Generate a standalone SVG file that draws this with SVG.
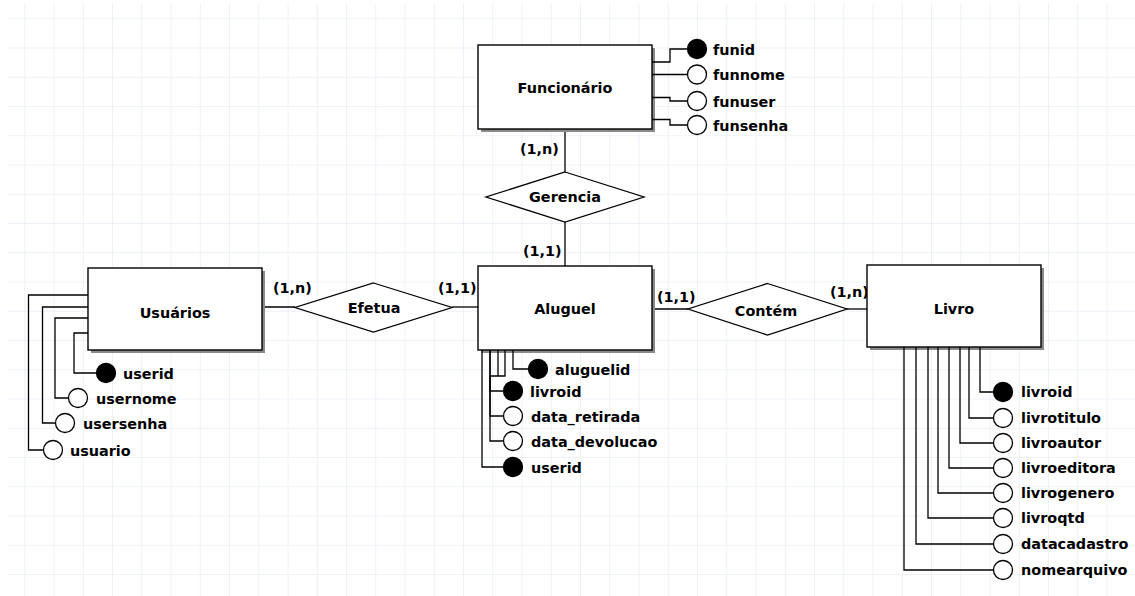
<svg xmlns="http://www.w3.org/2000/svg" width="1135" height="596" viewBox="0 0 1135 596">
<defs>
<pattern id="grid" x="24.3" y="18.3" width="29.25" height="29.25" patternUnits="userSpaceOnUse">
<path d="M0,0 V29.25 M0,0 H29.25" fill="none" stroke="#e8eef6" stroke-width="1.5"/>
</pattern>
<style>
.t{font-family:"DejaVu Sans","Liberation Sans",sans-serif;font-weight:bold;font-size:14.4px;fill:#000}
.c{text-anchor:middle}
.ent{fill:#fff;stroke:#000;stroke-width:1.4}
.sh{fill:#8a8a8a}
.rel{fill:#fff;stroke:#000;stroke-width:1.3}
.ln{fill:none;stroke:#000;stroke-width:1.3}
.pk{fill:#000;stroke:#000;stroke-width:1.3}
.at{fill:#fff;stroke:#000;stroke-width:1.3}
</style>
</defs>
<rect width="1135" height="596" fill="#fff"/>
<rect x="8" y="3" width="1127" height="593" fill="url(#grid)"/>

<g id="connectors">
<path class="ln" d="M565,129 V172"/>
<path class="ln" d="M565,222 V266"/>
<path class="ln" d="M262,307 H295"/>
<path class="ln" d="M452,307 H478"/>
<path class="ln" d="M652,309 H688"/>
<path class="ln" d="M847,309 H867"/>
</g>

<g id="funcionario">
<rect class="sh" x="481" y="48" width="174" height="84"/>
<rect class="ent" x="478" y="45" width="174" height="84"/>
<text class="t c" x="565" y="92.5">Funcionário</text>
</g>
<g id="funcionario-attrs">
<path class="ln" d="M652,62 H670 V49 H687"/>
<path class="ln" d="M652,74.5 H687"/>
<path class="ln" d="M652,97.5 H670 V101 H687"/>
<path class="ln" d="M652,119.5 H670 V125 H687"/>
<circle class="pk" cx="697" cy="49" r="9.5"/>
<circle class="at" cx="697" cy="74.5" r="9.5"/>
<circle class="at" cx="697" cy="101" r="9.5"/>
<circle class="at" cx="697" cy="125" r="9.5"/>
<text class="t" x="713" y="54.5">funid</text>
<text class="t" x="713" y="80">funnome</text>
<text class="t" x="713" y="106.5">funuser</text>
<text class="t" x="713" y="130.5">funsenha</text>
</g>

<g id="gerencia">
<polygon class="rel" points="565,172 644,197 565,222 486,197"/>
<text class="t c" x="565" y="202">Gerencia</text>
</g>
<text class="t" x="520" y="154">(1,n)</text>
<text class="t" x="523" y="256">(1,1)</text>

<g id="aluguel">
<rect class="sh" x="481" y="269" width="174" height="84"/>
<rect class="ent" x="478" y="266" width="174" height="84"/>
<text class="t c" x="565" y="314">Aluguel</text>
</g>
<g id="aluguel-attrs">
<path class="ln" d="M513,350 V369 H528"/>
<path class="ln" d="M505,350 V376 H490 V391 H503"/>
<path class="ln" d="M498,350 V376"/>
<path class="ln" d="M490,350 V416 H503"/>
<path class="ln" d="M490,350 V441 H503"/>
<path class="ln" d="M482,350 V467 H503"/>
<circle class="pk" cx="538" cy="369" r="9.5"/>
<circle class="pk" cx="513" cy="391" r="9.5"/>
<circle class="at" cx="513" cy="416" r="9.5"/>
<circle class="at" cx="513" cy="441" r="9.5"/>
<circle class="pk" cx="513" cy="467" r="9.5"/>
<text class="t" x="555" y="374.5">aluguelid</text>
<text class="t" x="530" y="397">livroid</text>
<text class="t" x="531" y="421.5">data_retirada</text>
<text class="t" x="531" y="446.5">data_devolucao</text>
<text class="t" x="531" y="472.5">userid</text>
</g>

<g id="usuarios">
<rect class="sh" x="91" y="271" width="174" height="82"/>
<rect class="ent" x="88" y="268" width="174" height="82"/>
<text class="t c" x="175" y="318">Usuários</text>
</g>
<g id="usuarios-attrs">
<path class="ln" d="M88,333 H74 V373 H96.5"/>
<path class="ln" d="M88,318 H55 V398 H68.5"/>
<path class="ln" d="M88,307 H42.5 V423 H55.5"/>
<path class="ln" d="M88,295 H28.5 V450 H43.5"/>
<circle class="pk" cx="106" cy="373" r="9.5"/>
<circle class="at" cx="78" cy="398" r="9.5"/>
<circle class="at" cx="65" cy="423" r="9.5"/>
<circle class="at" cx="53" cy="450" r="9.5"/>
<text class="t" x="123" y="378.5">userid</text>
<text class="t" x="96" y="403.5">usernome</text>
<text class="t" x="83" y="428.5">usersenha</text>
<text class="t" x="70" y="455.5">usuario</text>
</g>

<g id="efetua">
<polygon class="rel" points="373.5,283 452,307.5 373.5,332 295,307.5"/>
<text class="t c" x="374" y="313">Efetua</text>
</g>
<text class="t" x="273" y="293">(1,n)</text>
<text class="t" x="438" y="293">(1,1)</text>

<g id="contem">
<polygon class="rel" points="767.5,283.5 847,309 767.5,335 688,309"/>
<text class="t c" x="766" y="316">Contém</text>
</g>
<text class="t" x="657" y="301.5">(1,1)</text>
<text class="t" x="830" y="297">(1,n)</text>

<g id="livro">
<rect class="sh" x="870" y="268" width="174" height="82"/>
<rect class="ent" x="867" y="265" width="174" height="82"/>
<text class="t c" x="954" y="314">Livro</text>
</g>
<g id="livro-attrs">
<path class="ln" d="M980,347 V392 H993.5"/>
<path class="ln" d="M969,347 V418 H993.5"/>
<path class="ln" d="M960,347 V443 H993.5"/>
<path class="ln" d="M949,347 V468 H993.5"/>
<path class="ln" d="M938,347 V493 H993.5"/>
<path class="ln" d="M928,347 V518 H993.5"/>
<path class="ln" d="M916,347 V544 H993.5"/>
<path class="ln" d="M904,347 V570 H993.5"/>
<circle class="pk" cx="1003" cy="392" r="9.5"/>
<circle class="at" cx="1003" cy="418" r="9.5"/>
<circle class="at" cx="1003" cy="443" r="9.5"/>
<circle class="at" cx="1003" cy="468" r="9.5"/>
<circle class="at" cx="1003" cy="493" r="9.5"/>
<circle class="at" cx="1003" cy="518" r="9.5"/>
<circle class="at" cx="1003" cy="544" r="9.5"/>
<circle class="at" cx="1003" cy="570" r="9.5"/>
<text class="t" x="1021" y="397">livroid</text>
<text class="t" x="1021" y="423">livrotitulo</text>
<text class="t" x="1021" y="448">livroautor</text>
<text class="t" x="1021" y="473">livroeditora</text>
<text class="t" x="1021" y="498">livrogenero</text>
<text class="t" x="1021" y="523">livroqtd</text>
<text class="t" x="1021" y="549">datacadastro</text>
<text class="t" x="1021" y="575">nomearquivo</text>
</g>
</svg>
